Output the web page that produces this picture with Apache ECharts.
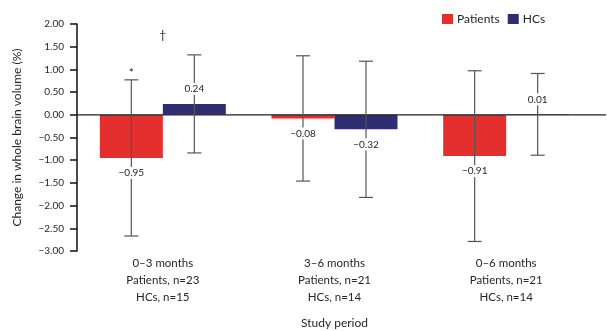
<!DOCTYPE html>
<html>
<head>
<meta charset="utf-8">
<script src="https://cdn.jsdelivr.net/npm/echarts@6/dist/echarts.min.js"></script>
<style>
  html, body { margin: 0; padding: 0; background: #fff; }
  #chart { width: 607px; height: 331px; }
</style>
</head>
<body>
<div id="chart"></div>
<script>
// Study periods and group sizes
const periods = ['0–3 months', '3–6 months', '0–6 months'];
const patientsN = [23, 21, 21];
const hcsN = [15, 14, 14];

// Mean change in whole brain volume (%) and standard deviation
const patientsMean = [-0.95, -0.08, -0.91];
const patientsSD = [1.72, 1.38, 1.88];
const hcsMean = [0.24, -0.32, 0.01];
const hcsSD = [1.08, 1.50, 0.90];

// Significance markers
const patientsMarks = ['*', '', ''];
const periodMarks = ['†', '', ''];

// Y axis range
const yMin = -3, yMax = 2, yStep = 0.5;

const FONT = 'Lato, "Open Sans", sans-serif';
const TEXT = '#262626';
const RED = '#e3302e';
const NAVY = '#2f2e73';
const BAR_W = 63;

const fmt = v => (v < 0 ? '\u2212' + Math.abs(v).toFixed(2) : v.toFixed(2));

const categoryLabels = periods.map((p, i) =>
  p + '\nPatients, n=' + patientsN[i] + '\nHCs, n=' + hcsN[i]);

// Whiskers, value labels and markers for one group
function errorSeries(means, sds, side, marks, centerMarks) {
  return {
    type: 'custom',
    z: 5,
    silent: true,
    data: means.map((m, i) => [i, m, sds[i]]),
    encode: { x: 0, y: 1 },
    renderItem(params, api) {
      const i = api.value(0), m = api.value(1), sd = api.value(2);
      const c = api.coord([i, m]);
      const x = c[0] + side * BAR_W / 2;
      const top = api.coord([i, m + sd])[1];
      const bot = api.coord([i, m - sd])[1];
      const ls = { stroke: '#555', lineWidth: 1.2 };
      const cap = 7;
      const children = [
        { type: 'line', shape: { x1: x, y1: top, x2: x, y2: bot }, style: ls },
        { type: 'line', shape: { x1: x - cap, y1: top, x2: x + cap, y2: top }, style: ls },
        { type: 'line', shape: { x1: x - cap, y1: bot, x2: x + cap, y2: bot }, style: ls },
        {
          type: 'text', x: x, y: m >= 0 ? c[1] - 15 : c[1] + 15,
          style: {
            text: fmt(m), fill: TEXT, font: '10px ' + FONT,
            align: 'center', verticalAlign: 'middle',
            backgroundColor: '#fff', padding: [1, 1]
          }
        }
      ];
      const mk = marks && marks[params.dataIndex];
      if (mk) {
        children.push({
          type: 'text', x: x, y: top - 7,
          style: { text: mk, fill: TEXT, font: '12px ' + FONT, align: 'center', verticalAlign: 'middle' }
        });
      }
      const cm = centerMarks && centerMarks[params.dataIndex];
      if (cm) {
        children.push({
          type: 'text', x: c[0], y: top - 20,
          style: { text: cm, fill: TEXT, font: '12px ' + FONT, align: 'center', verticalAlign: 'middle' }
        });
      }
      return { type: 'group', children };
    }
  };
}

const chart = echarts.init(document.getElementById('chart'));
chart.setOption({
  backgroundColor: '#fff',
  animation: false,
  textStyle: { fontFamily: FONT },
  grid: { left: 77, right: 15, top: 24, bottom: 80, containLabel: false, outerBoundsMode: 'none' },
  legend: {
    data: ['Patients', 'HCs'],
    left: 442, top: 13, padding: 0,
    icon: 'rect', itemWidth: 11, itemHeight: 10, itemGap: 8,
    textStyle: { fontSize: 12, color: TEXT, fontFamily: FONT, padding: [0, 0, 0, -1] }
  },
  xAxis: [
    {
      type: 'category', data: categoryLabels,
      axisLine: { show: false }, axisTick: { show: false }, axisLabel: { show: false }
    },
    {
      type: 'category', data: categoryLabels, position: 'bottom',
      axisLine: { show: false, onZero: false }, axisTick: { show: false },
      axisLabel: { fontSize: 11.5, color: TEXT, lineHeight: 17, margin: 4, fontFamily: FONT },
      name: 'Study period', nameLocation: 'middle', nameGap: 66,
      nameTextStyle: { fontSize: 12, color: TEXT, fontFamily: FONT }
    }
  ],
  yAxis: {
    type: 'value', min: yMin, max: yMax, interval: yStep,
    splitLine: { show: false },
    axisLine: { show: true, lineStyle: { color: '#111', width: 1.5 } },
    axisTick: { show: true, length: 7, lineStyle: { color: '#111', width: 1.5 } },
    axisLabel: { formatter: fmt, fontSize: 10, color: TEXT, margin: 13, fontFamily: FONT },
    name: 'Change in whole brain volume (%)', nameLocation: 'middle', nameGap: 54,
    nameTextStyle: { fontSize: 12, color: TEXT, fontFamily: FONT }
  },
  series: [
    {
      name: 'Patients', type: 'bar', data: patientsMean,
      barWidth: BAR_W, barGap: '0%', itemStyle: { color: RED }
    },
    {
      name: 'HCs', type: 'bar', data: hcsMean,
      barWidth: BAR_W, barGap: '0%', itemStyle: { color: NAVY }
    },
    {
      // zero reference line across the plot
      type: 'custom', z: 4, silent: true,
      data: [[0, 0]],
      encode: { x: 0, y: 1 },
      renderItem(params, api) {
        const y = api.coord([0, 0])[1];
        const cs = params.coordSys;
        return {
          type: 'line',
          shape: { x1: cs.x, y1: y, x2: cs.x + cs.width + 14, y2: y },
          style: { stroke: '#222', lineWidth: 1.2 }
        };
      }
    },
    errorSeries(patientsMean, patientsSD, -1, patientsMarks, null),
    errorSeries(hcsMean, hcsSD, 1, null, periodMarks)
  ]
});
</script>
</body>
</html>
